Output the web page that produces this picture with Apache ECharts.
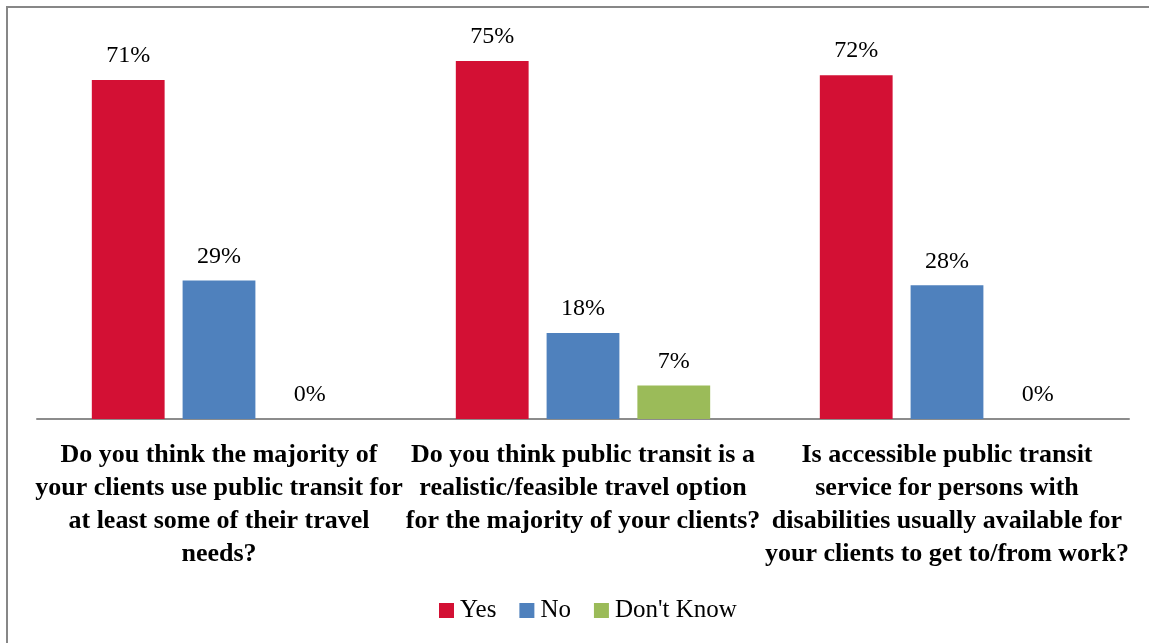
<!DOCTYPE html>
<html>
<head>
<meta charset="utf-8">
<script src="https://cdn.jsdelivr.net/npm/echarts@6/dist/echarts.min.js"></script>
<style>
  html, body { margin: 0; padding: 0; background: #fff; }
  #chart { width: 1149px; height: 643px; }
</style>
</head>
<body>
<div id="chart"></div>
<script>
// Survey questions (line breaks as they wrap under each group)
const questions = [
  'Do you think the majority of\nyour clients use public transit for\nat least some of their travel\nneeds?',
  'Do you think public transit is a\nrealistic/feasible travel option\nfor the majority of your clients?',
  'Is accessible public transit\nservice for persons with\ndisabilities usually available for\nyour clients to get to/from work?'
];

// Share of responses, in percent
const yesValues = [71, 75, 72];
const noValues = [29, 18, 28];
const dontKnowValues = [0, 7, 0];

const seriesNames = ['Yes', 'No', "Don't Know"];
const seriesColors = ['#D31034', '#4F81BD', '#9BBB59'];

const serif = '"Liberation Serif", "DejaVu Serif", serif';

const chart = echarts.init(document.getElementById('chart'), null, { renderer: 'canvas' });

function barSeries(name, values, color) {
  return {
    name: name,
    type: 'bar',
    data: values,
    barWidth: '20%',
    barGap: '24.7%',
    itemStyle: { color: color },
    label: {
      show: true,
      position: 'top',
      distance: 12,
      formatter: '{c}%',
      fontFamily: serif,
      fontSize: 24,
      color: '#000'
    }
  };
}

chart.setOption({
  animation: false,
  backgroundColor: '#fff',
  graphic: [{
    type: 'rect',
    shape: { x: 7, y: 7, width: 1170, height: 680 },
    style: { fill: 'none', stroke: '#878787', lineWidth: 2 },
    silent: true,
    z: -1
  }],
  grid: { left: 37, right: 20, top: 37, bottom: 224, containLabel: false },
  legend: {
    data: seriesNames,
    left: 434,
    top: 593,
    icon: 'rect',
    itemWidth: 15,
    itemHeight: 15,
    itemGap: 23,
    textStyle: { fontFamily: serif, fontSize: 25, color: '#000', padding: [0, 0, 0, 1] }
  },
  xAxis: {
    type: 'category',
    data: questions,
    axisLine: { lineStyle: { color: '#8C8C8C', width: 2 } },
    axisTick: { show: false },
    axisLabel: {
      interval: 0,
      margin: 20,
      fontFamily: serif,
      fontSize: 26,
      fontWeight: 'bold',
      lineHeight: 33,
      color: '#000',
      align: 'center'
    }
  },
  yAxis: {
    type: 'value',
    min: 0,
    max: 80,
    interval: 10,
    show: false,
    splitLine: { show: false }
  },
  series: [
    barSeries(seriesNames[0], yesValues, seriesColors[0]),
    barSeries(seriesNames[1], noValues, seriesColors[1]),
    barSeries(seriesNames[2], dontKnowValues, seriesColors[2])
  ]
});
</script>
</body>
</html>
